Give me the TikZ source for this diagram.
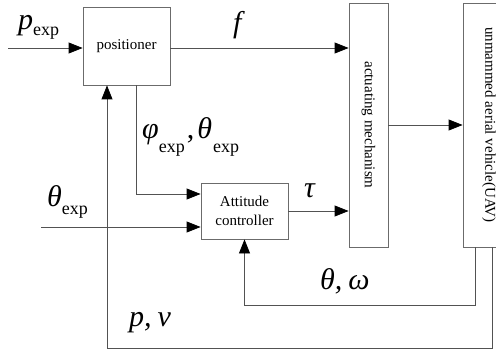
\documentclass[tikz,border=0pt]{standalone}
\usepackage{fontspec}
\setmainfont{Liberation Serif}
\usetikzlibrary{arrows.meta}
\definecolor{boxgray}{gray}{0.42}
\definecolor{linegray}{gray}{0.32}
\newcommand\sbx[2][7pt]{\raisebox{-#1}{\fontsize{18}{18}\selectfont\upshape #2}}
\begin{document}
\begin{tikzpicture}[x=1pt,y=-1pt,
  box/.style={draw=boxgray, line width=0.8pt, inner sep=0pt, align=center,
    font=\fontsize{15}{19}\selectfont},
  conn/.style={draw=linegray, line width=0.8pt},
  arr/.style={conn, -{Triangle[length=14pt,width=11pt,color=black]}},
  lab/.style={font=\fontsize{30}{32}\selectfont\itshape, inner sep=0pt, anchor=base west}]
\useasboundingbox (0,0) rectangle (496,353);
\clip (0,0) rectangle (496,353);
\node[box, minimum width=87pt, minimum height=78pt] (pos) at (126.5,46) {positioner};
\node[box, minimum width=39pt, minimum height=244pt] (act) at (368.5,125) {\rotatebox{-90}{actuating mechanism}};
\node[box, minimum width=52pt, minimum height=244pt] (uav) at (489,125) {\rotatebox{-90}{unmammed aerial vehicle(UAV)}};
\node[box, minimum width=87pt, minimum height=56pt] (att) at (244.5,211) {Attitude\\controller};
\coordinate (pin) at (8,48);
\coordinate (tin) at (41,227);
\coordinate (k1) at (136,194);
\coordinate (k2) at (475,305);
\coordinate (k3) at (492,348);
\coordinate (k4) at (107,0);
\draw[arr] (pin) -- (pin -| pos.west);
\draw[arr] (pos.east |- pin) -- (act.west |- pin);
\draw[arr] (act.east) -- (uav.west);
\draw[arr] (att.east) -- (att.east -| act.west);
\draw[arr] (pos.south -| k1) |- (att.west |- k1);
\draw[arr] (tin) -- (att.west |- tin);
\draw[arr] (uav.south -| k2) -- (k2) -| (att.south);
\draw[arr] (uav.south -| k3) -- (k3) -| (pos.south -| k4);
\node[lab] (lpexp) at (18,30) {p\sbx[6pt]{exp}};
\node[lab] (lf) at (233,33) {f};
\node[lab] (lphi) at (142,139) {φ\sbx[14pt]{exp}\hspace{2pt}\upshape,\hspace{3pt}\itshape θ\sbx[14pt]{\hspace{1pt}exp}};
\node[lab] (lthexp) at (47,206) {θ\sbx[8pt]{exp}};
\node[lab] (ltau) at (304,197) {τ};
\node[lab] (lthw) at (320,289) {θ,\hspace{6pt}ω};
\node[lab] (lpv) at (129,326) {p,\hspace{6pt}v};
\end{tikzpicture}
\end{document}
